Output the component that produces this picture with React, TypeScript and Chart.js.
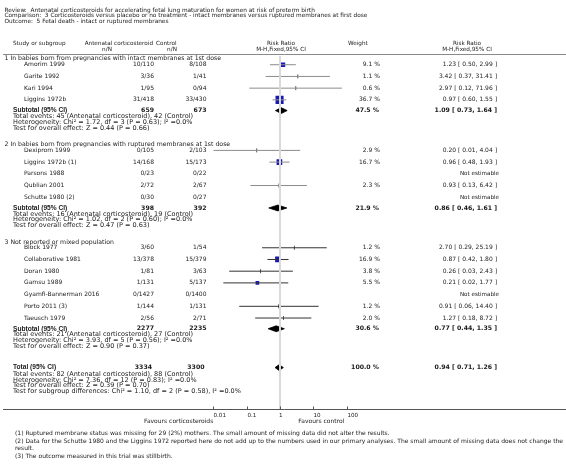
import React, { useEffect, useRef } from "react";
import { Chart, registerables } from "chart.js";
Chart.register(...registerables);

// ---------------- data ----------------
const titleLines = [
  "Review:  Antenatal corticosteroids for accelerating fetal lung maturation for women at risk of preterm birth",
  "Comparison:  3 Corticosteroids versus placebo or no treatment - intact membranes versus ruptured membranes at first dose",
  "Outcome:  5 Fetal death - intact or ruptured membranes",
];
const groupTitles = [
  "1 In babies born from pregnancies with intact membranes at 1st dose",
  "2 In babies born from pregnancies with ruptured membranes at 1st dose",
  "3 Not reported or mixed population",
];
const studyNames = [
  "Amorim 1999", "Garite 1992", "Kari 1994", "Liggins 1972b",
  "Dexiprom 1999", "Liggins 1972b (1)", "Parsons 1988", "Qublian 2001", "Schutte 1980 (2)",
  "Block 1977", "Collaborative 1981", "Doran 1980", "Gamsu 1989", "Gyamfi-Bannerman 2016", "Porto 2011 (3)", "Taeusch 1979",
];
const studyGroup = [0, 0, 0, 0, 1, 1, 1, 1, 1, 2, 2, 2, 2, 2, 2, 2];
const treatEvents = [10, 3, 1, 31, 0, 14, 0, 2, 0, 3, 13, 1, 1, 0, 1, 2];
const treatTotal = [110, 36, 95, 418, 105, 168, 23, 72, 30, 60, 378, 81, 131, 1427, 144, 56];
const ctrlEvents = [8, 1, 0, 33, 2, 15, 0, 2, 0, 1, 15, 3, 5, 0, 1, 2];
const ctrlTotal = [108, 41, 94, 430, 103, 173, 22, 67, 27, 54, 379, 63, 137, 1400, 131, 71];
const studyWeight = [9.1, 1.1, 0.6, 36.7, 2.9, 16.7, null, 2.3, null, 1.2, 16.9, 3.8, 5.5, null, 1.2, 2.0];
const studyRR = [1.23, 3.42, 2.97, 0.97, 0.20, 0.96, null, 0.93, null, 2.70, 0.87, 0.26, 0.21, null, 0.91, 1.27];
const studyLower = [0.50, 0.37, 0.12, 0.60, 0.01, 0.48, null, 0.13, null, 0.29, 0.42, 0.03, 0.02, null, 0.06, 0.18];
const studyUpper = [2.99, 31.41, 71.96, 1.55, 4.04, 1.93, null, 6.42, null, 25.19, 1.80, 2.43, 1.77, null, 14.40, 8.72];

const subTreatTotal = [659, 398, 2277];
const subCtrlTotal = [673, 392, 2235];
const subWeight = [47.5, 21.9, 30.6];
const subRR = [1.09, 0.86, 0.77];
const subLower = [0.73, 0.46, 0.44];
const subUpper = [1.64, 1.61, 1.35];
const subTreatEvents = [45, 16, 21];
const subCtrlEvents = [42, 19, 27];
const subChi2 = [1.72, 1.02, 3.93];
const subDf = [3, 2, 5];
const subHetP = [0.63, 0.60, 0.56];
const subI2 = [0.0, 0.0, 0.0];
const subZ = [0.44, 0.47, 0.90];
const subZP = [0.66, 0.63, 0.37];

const totalTreat = 3334;
const totalCtrl = 3300;
const totalWeight = 100.0;
const totalRR = 0.94;
const totalLower = 0.71;
const totalUpper = 1.26;
const totalTreatEvents = 82;
const totalCtrlEvents = 88;
const totalChi2 = 7.36;
const totalDf = 12;
const totalHetP = 0.83;
const totalI2 = 0.0;
const totalZ = 0.39;
const totalZP = 0.70;
const sgChi2 = 1.10;
const sgDf = 2;
const sgP = 0.58;
const sgI2 = 0.0;

const axisTicks = [0.01, 0.1, 1, 10, 100];
const axisTickLabels = ["0.01", "0.1", "1", "10", "100"];
const favoursLeft = "Favours corticosteroids";
const favoursRight = "Favours control";

const footnotes = [
  "(1) Ruptured membrane status was missing for 29 (2%) mothers. The small amount of missing data did not alter the results.",
  "(2) Data for the Schutte 1980 and the Liggins 1972 reported here do not add up to the numbers used in our primary analyses. The small amount of missing data does not change the",
  "result.",
  "(3) The outcome measured in this trial was stillbirth.",
];

// ---------------- layout (row positions on the y scale) ----------------
const W = 566;
const H = 469;
const PLOT_LEFT = 213.3;
const PLOT_RIGHT = 346.7;

function buildLayout() {
  const titleY = titleLines.map((_, i) => 4.5 + i * 5.8);
  const head1 = 39;
  const head2 = 44.5;
  const rule = 49.5;
  const groupY: number[] = [];
  const studyY: number[] = new Array(studyNames.length).fill(0);
  const subY: number[] = [];
  const subStatsY: number[][] = [];
  let y = 54.5;
  for (let g = 0; g < groupTitles.length; g++) {
    groupY.push(y);
    let cur = y;
    let first = true;
    for (let i = 0; i < studyNames.length; i++) {
      if (studyGroup[i] !== g) continue;
      cur = first ? y + 6 : cur + 12;
      first = false;
      studyY[i] = cur;
    }
    const s = cur + 11;
    subY.push(s);
    const st = [s + 6.2, s + 12, s + 17.8];
    subStatsY.push(st);
    y = st[2] + 17;
  }
  const totalY = subStatsY[subStatsY.length - 1][2] + 22;
  const totalStatsY = [totalY + 6.8, totalY + 12.6, totalY + 18.4, totalY + 24.2];
  const axisY = 413.5;
  const tickLabelY = 420;
  const favoursY = 426;
  const footY = [438, 446.2, 454.2, 462.2];
  return { titleY, head1, head2, rule, groupY, studyY, subY, subStatsY, totalY, totalStatsY, axisY, tickLabelY, favoursY, footY };
}

const LAY = buildLayout();

// ---------------- styles ----------------
const FONT = '"DejaVu Sans", Verdana, sans-serif';
const F_N = `6px ${FONT}`;
const F_T = `5.8px ${FONT}`;
const F_H = `5.7px ${FONT}`;
const F_G = `6.2px ${FONT}`;
const F_S = `6.5px ${FONT}`;
const F_B = `bold 6.2px ${FONT}`;
const F_BL = `bold 6.6px "Liberation Sans", Arial, sans-serif`;
const TXT = "#1a1a1a";
const BLUE = "#1818b4";
const groupLineColor = ["#8c8c8c", "#8c8c8c", "#333333"];

const f2 = (v: number) => v.toFixed(2);
const rrText = (r: number, l: number, u: number) => `${f2(r)} [ ${f2(l)}, ${f2(u)} ]`;

function drawText(ctx: CanvasRenderingContext2D, s: string, x: number, y: number, align: CanvasTextAlign = "left", font = F_N, color = TXT) {
  ctx.font = font;
  ctx.textAlign = align;
  ctx.textBaseline = "middle";
  ctx.fillStyle = color;
  ctx.fillText(s, x, y);
}

const textPlugin = {
  id: "forestText",
  afterDraw(chart: any) {
    const ctx: CanvasRenderingContext2D = chart.ctx;
    const ys = chart.scales.y;
    const xs = chart.scales.x;
    const P = (v: number) => ys.getPixelForValue(v);
    ctx.save();

    titleLines.forEach((t, i) => drawText(ctx, t, 4.5, P(LAY.titleY[i]), "left", F_T));

    // headers
    drawText(ctx, "Study or subgroup", 13, P(LAY.head1), "left", F_H);
    drawText(ctx, "Antenatal corticosteroid", 153, P(LAY.head1), "right", F_H);
    drawText(ctx, "Control", 156, P(LAY.head1), "left", F_H);
    drawText(ctx, "n/N", 107, P(LAY.head2), "center", F_H);
    drawText(ctx, "n/N", 172, P(LAY.head2), "center", F_H);
    const mid = xs.getPixelForValue(1);
    drawText(ctx, "Risk Ratio", mid + 1, P(LAY.head1), "center", F_H);
    drawText(ctx, "M-H,Fixed,95% CI", mid + 1, P(LAY.head2), "center", F_H);
    drawText(ctx, "Weight", 348, P(LAY.head1), "left", F_H);
    drawText(ctx, "Risk Ratio", 467, P(LAY.head1), "center", F_H);
    drawText(ctx, "M-H,Fixed,95% CI", 467, P(LAY.head2), "center", F_H);

    ctx.strokeStyle = "#8a8a8a";
    ctx.lineWidth = 1;
    ctx.beginPath();
    ctx.moveTo(3, Math.round(P(LAY.rule)) + 0.5);
    ctx.lineTo(W, Math.round(P(LAY.rule)) + 0.5);
    ctx.stroke();

    // groups
    groupTitles.forEach((g, gi) => {
      drawText(ctx, g, 4.5, P(LAY.groupY[gi]), "left", F_G);
    });
    studyNames.forEach((name, i) => {
      const y = P(LAY.studyY[i]);
      drawText(ctx, name, 24, y);
      drawText(ctx, `${treatEvents[i]}/${treatTotal[i]}`, 154, y, "right");
      drawText(ctx, `${ctrlEvents[i]}/${ctrlTotal[i]}`, 206.5, y, "right");
      const w = studyWeight[i];
      const r = studyRR[i];
      if (w != null) drawText(ctx, `${w.toFixed(1)} %`, 380, y, "right");
      if (r != null) drawText(ctx, rrText(r, studyLower[i] as number, studyUpper[i] as number), 497, y, "right");
      else drawText(ctx, "Not estimable", 499, y, "right", `5.6px ${FONT}`);
    });
    groupTitles.forEach((_, gi) => {
      const y = P(LAY.subY[gi]);
      drawText(ctx, "Subtotal (95% CI)", 13, y, "left", F_BL);
      drawText(ctx, `${subTreatTotal[gi]}`, 154, y, "right", F_B);
      drawText(ctx, `${subCtrlTotal[gi]}`, 206.5, y, "right", F_B);
      drawText(ctx, `${subWeight[gi].toFixed(1)} %`, 379, y, "right", F_B);
      drawText(ctx, rrText(subRR[gi], subLower[gi], subUpper[gi]), 497, y, "right", F_B);
      const st = LAY.subStatsY[gi];
      drawText(ctx, `Total events: ${subTreatEvents[gi]} (Antenatal corticosteroid), ${subCtrlEvents[gi]} (Control)`, 13, P(st[0]), "left", F_S);
      drawText(ctx, `Heterogeneity: Chi² = ${f2(subChi2[gi])}, df = ${subDf[gi]} (P = ${f2(subHetP[gi])}); I² =${subI2[gi].toFixed(1)}%`, 13, P(st[1]), "left", F_S);
      drawText(ctx, `Test for overall effect: Z = ${f2(subZ[gi])} (P = ${f2(subZP[gi])})`, 13, P(st[2]), "left", F_S);
    });

    // total
    const ty = P(LAY.totalY);
    drawText(ctx, "Total (95% CI)", 13, ty, "left", F_BL);
    drawText(ctx, `${totalTreat}`, 152, ty, "right", F_B);
    drawText(ctx, `${totalCtrl}`, 204.5, ty, "right", F_B);
    drawText(ctx, `${totalWeight.toFixed(1)} %`, 379, ty, "right", F_B);
    drawText(ctx, rrText(totalRR, totalLower, totalUpper), 497, ty, "right", F_B);
    const ts = LAY.totalStatsY;
    drawText(ctx, `Total events: ${totalTreatEvents} (Antenatal corticosteroid), ${totalCtrlEvents} (Control)`, 13, P(ts[0]), "left", F_S);
    drawText(ctx, `Heterogeneity: Chi² = ${f2(totalChi2)}, df = ${totalDf} (P = ${f2(totalHetP)}); I² =${totalI2.toFixed(1)}%`, 13, P(ts[1]), "left", F_S);
    drawText(ctx, `Test for overall effect: Z = ${f2(totalZ)} (P = ${f2(totalZP)})`, 13, P(ts[2]), "left", F_S);
    drawText(ctx, `Test for subgroup differences: Chi² = ${f2(sgChi2)}, df = ${sgDf} (P = ${f2(sgP)}), I² =${sgI2.toFixed(1)}%`, 13, P(ts[3]), "left", F_S);

    // axis
    const ay = Math.round(P(LAY.axisY)) + 0.5;
    ctx.strokeStyle = "#555";
    ctx.lineWidth = 1;
    ctx.beginPath();
    ctx.moveTo(3, ay);
    ctx.lineTo(W, ay);
    ctx.stroke();
    axisTicks.forEach((t, i) => {
      const x = Math.round(xs.getPixelForValue(t)) + 0.5;
      ctx.beginPath();
      ctx.moveTo(x, ay);
      ctx.lineTo(x, ay - 3);
      ctx.stroke();
      drawText(ctx, axisTickLabels[i], x - (i === 2 ? 1.5 : 0), P(LAY.tickLabelY), "left", `5.6px ${FONT}`);
    });
    drawText(ctx, favoursLeft, xs.getPixelForValue(axisTicks[0]), P(LAY.favoursY), "right", F_N);
    drawText(ctx, favoursRight, xs.getPixelForValue(axisTicks[3]) - 15, P(LAY.favoursY), "left", F_N);

    footnotes.forEach((f, i) => drawText(ctx, f, 15, P(LAY.footY[i]), "left", F_N));
    ctx.restore();
  },
};

export default function App() {
  const ref = useRef<HTMLCanvasElement | null>(null);
  useEffect(() => {
    document.body.style.margin = "0";
    const canvas = ref.current;
    if (!canvas) return;
    const datasets: any[] = [];
    // reference line at RR = 1
    datasets.push({
      data: [{ x: 1, y: LAY.rule + 2 }, { x: 1, y: LAY.axisY }],
      showLine: true,
      borderColor: "#d9d9d9",
      borderWidth: 2,
      pointRadius: 0,
    });
    // confidence intervals
    studyNames.forEach((_, i) => {
      if (studyRR[i] == null) return;
      datasets.push({
        data: [{ x: studyLower[i], y: LAY.studyY[i] }, { x: studyUpper[i], y: LAY.studyY[i] }],
        showLine: true,
        borderColor: groupLineColor[studyGroup[i]],
        borderWidth: 1,
        pointRadius: 0,
      });
    });
    // point estimates
    const idx = studyNames.map((_, i) => i).filter((i) => studyRR[i] != null);
    const big = (i: number) => (studyWeight[i] as number) >= 5;
    datasets.push({
      data: idx.map((i) => ({ x: studyRR[i], y: LAY.studyY[i] })),
      pointStyle: idx.map((i) => (big(i) ? "rect" : "line")),
      pointRotation: idx.map((i) => (big(i) ? 0 : 90)),
      pointRadius: idx.map((i) => (big(i) ? (1.2 * Math.sqrt(studyWeight[i] as number) + 0.8) / Math.SQRT2 : 2)),
      pointBackgroundColor: BLUE,
      pointBorderColor: idx.map((i) => (big(i) ? BLUE : "#555")),
      pointBorderWidth: idx.map((i) => (big(i) ? 0 : 1)),
      showLine: false,
    });
    // diamonds
    const diamond = (r: number, l: number, u: number, y: number) => ({
      data: [
        { x: l, y },
        { x: r, y: y - 3 },
        { x: u, y },
        { x: r, y: y + 3 },
        { x: l, y },
      ],
      showLine: true,
      fill: "shape",
      backgroundColor: "#000",
      borderColor: "#000",
      borderWidth: 0.8,
      pointRadius: 0,
      tension: 0,
    });
    groupTitles.forEach((_, gi) => datasets.push(diamond(subRR[gi], subLower[gi], subUpper[gi], LAY.subY[gi])));
    datasets.push(diamond(totalRR, totalLower, totalUpper, LAY.totalY));

    const chart = new Chart(canvas, {
      type: "scatter",
      data: { datasets },
      options: {
        animation: false,
        responsive: false,
        events: [],
        layout: { padding: { left: PLOT_LEFT, right: W - PLOT_RIGHT, top: 0, bottom: 0 } },
        plugins: { legend: { display: false }, tooltip: { enabled: false } },
        scales: {
          x: { type: "logarithmic", min: 0.01, max: 100, display: false },
          y: { type: "linear", min: 0, max: H, reverse: true, display: false },
        },
      },
      plugins: [textPlugin],
    });
    return () => chart.destroy();
  }, []);
  return (
    <div style={{ position: "fixed", left: 0, top: 0, width: W, height: H, background: "#fff" }}>
      <canvas ref={ref} width={W} height={H} style={{ width: W, height: H, display: "block" }} />
    </div>
  );
}
